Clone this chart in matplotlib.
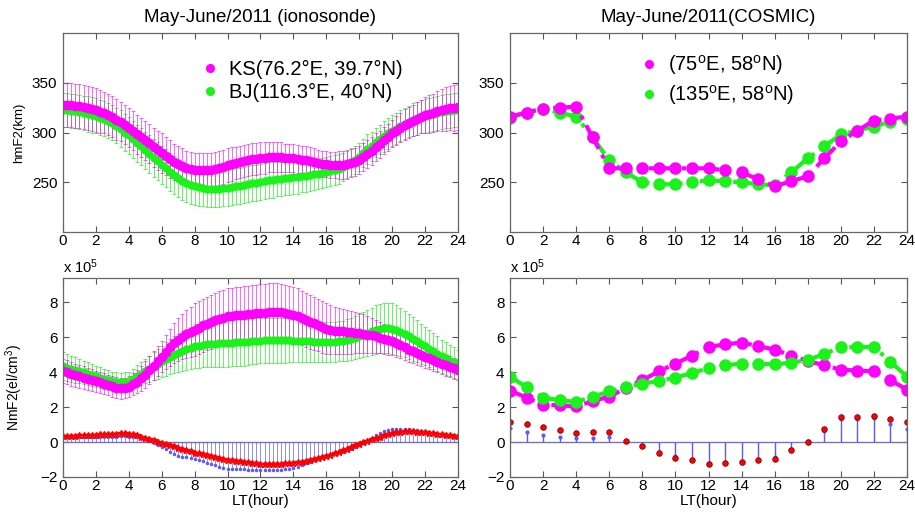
import numpy as np
import matplotlib
matplotlib.use("Agg")
import matplotlib.pyplot as plt
from matplotlib.lines import Line2D

plt.rcParams['font.family'] = ['Liberation Sans', 'DejaVu Sans']
plt.rcParams['mathtext.fontset'] = 'custom'
plt.rcParams['mathtext.rm'] = 'Liberation Sans'
plt.rcParams['mathtext.it'] = 'Liberation Sans:italic'

# ---------------- data ----------------
# ionosonde, 15-min local time grid (hours)
lt_fine = np.arange(0, 24.01, 0.25)

ks_hmf2 = [328, 328, 328, 327, 327, 326, 325, 324, 323, 321, 320, 318, 316, 313, 311, 308,
           305, 302, 298, 295, 292, 289, 285, 282, 279, 276, 273, 270, 268, 266, 264, 263,
           262, 262, 262, 262, 262, 263, 264, 265, 267, 268, 269, 270, 271, 272, 273, 273,
           274, 274, 275, 275, 275, 275, 274, 274, 274, 273, 272, 272, 271, 270, 269, 268,
           268, 267, 267, 267, 267, 268, 269, 270, 272, 275, 278, 281, 285, 288, 292, 295,
           299, 302, 305, 308, 310, 312, 314, 316, 318, 319, 320, 322, 323, 324, 325, 325, 326]
bj_hmf2 = [323, 323, 322, 322, 321, 320, 319, 318, 317, 315, 314, 312, 310, 307, 304, 300,
           297, 293, 289, 286, 282, 278, 274, 271, 267, 264, 260, 257, 254, 251, 249, 247,
           246, 245, 244, 243, 243, 243, 243, 244, 244, 245, 246, 246, 247, 248, 249, 249,
           250, 251, 252, 252, 253, 253, 254, 254, 255, 255, 256, 256, 257, 258, 258, 259,
           260, 261, 262, 263, 265, 267, 270, 272, 275, 279, 283, 286, 290, 293, 296, 299,
           302, 304, 307, 309, 311, 313, 314, 316, 317, 318, 319, 320, 321, 322, 322, 323, 323]
ks_hmf2_std = [22, 22, 22, 22, 22, 22, 22, 22, 22, 22, 21, 21, 21, 21, 20, 20,
               20, 20, 20, 20, 20, 20, 20, 20, 20, 19, 19, 18, 18, 18, 17, 17,
               17, 17, 17, 17, 17, 17, 17, 17, 17, 17, 16, 16, 16, 16, 16, 16,
               16, 16, 15, 15, 15, 15, 14, 14, 14, 14, 14, 14, 14, 14, 13, 13,
               13, 13, 13, 14, 14, 14, 14, 14, 14, 14, 14, 14, 14, 14, 14, 14,
               14, 15, 15, 16, 16, 16, 17, 17, 18, 19, 19, 20, 21, 22, 22, 23, 23]
bj_hmf2_std = [17, 17, 17, 17, 17, 17, 18, 18, 18, 18, 18, 18, 18, 18, 19, 19,
               19, 19, 19, 19, 19, 19, 19, 19, 19, 19, 19, 19, 19, 19, 19, 19,
               19, 19, 18, 18, 18, 18, 18, 18, 18, 18, 18, 18, 18, 18, 18, 18,
               18, 18, 18, 18, 17, 17, 17, 17, 17, 17, 16, 16, 16, 16, 15, 15,
               15, 15, 15, 15, 14, 14, 14, 14, 14, 14, 15, 15, 15, 15, 16, 16,
               16, 16, 16, 16, 16, 17, 17, 17, 17, 17, 17, 17, 17, 17, 17, 17, 17]

# NmF2 in units of 1e5 el/cm^3
ks_nmf2 = [4.06, 3.99, 3.91, 3.84, 3.77, 3.70, 3.63, 3.56, 3.49, 3.42, 3.34, 3.27, 3.20, 3.12, 3.08, 3.10,
           3.18, 3.30, 3.47, 3.66, 3.87, 4.12, 4.38, 4.64, 4.90, 5.16, 5.42, 5.66, 5.87, 6.04, 6.18, 6.32,
           6.44, 6.56, 6.68, 6.79, 6.90, 6.98, 7.06, 7.13, 7.20, 7.23, 7.26, 7.28, 7.30, 7.33, 7.36, 7.38,
           7.40, 7.42, 7.44, 7.45, 7.45, 7.43, 7.39, 7.35, 7.30, 7.21, 7.11, 7.00, 6.90, 6.80, 6.69, 6.59,
           6.50, 6.44, 6.39, 6.36, 6.34, 6.31, 6.29, 6.27, 6.25, 6.21, 6.16, 6.11, 6.06, 5.99, 5.92, 5.85,
           5.77, 5.66, 5.54, 5.42, 5.30, 5.20, 5.10, 5.00, 4.90, 4.80, 4.70, 4.60, 4.50, 4.41, 4.32, 4.23, 4.15]
bj_nmf2 = [4.34, 4.27, 4.20, 4.13, 4.06, 3.99, 3.91, 3.84, 3.77, 3.70, 3.63, 3.56, 3.49, 3.44, 3.42, 3.44,
           3.49, 3.62, 3.77, 3.91, 4.06, 4.20, 4.35, 4.49, 4.63, 4.76, 4.88, 5.00, 5.10, 5.21, 5.31, 5.40,
           5.49, 5.53, 5.57, 5.60, 5.62, 5.64, 5.65, 5.67, 5.68, 5.69, 5.71, 5.72, 5.73, 5.75, 5.77, 5.79,
           5.81, 5.82, 5.82, 5.83, 5.83, 5.83, 5.82, 5.82, 5.81, 5.80, 5.79, 5.78, 5.77, 5.76, 5.75, 5.74,
           5.73, 5.73, 5.75, 5.77, 5.80, 5.85, 5.92, 5.99, 6.06, 6.16, 6.26, 6.35, 6.44, 6.49, 6.53, 6.52,
           6.50, 6.42, 6.31, 6.19, 6.06, 5.92, 5.78, 5.64, 5.49, 5.35, 5.20, 5.06, 4.91, 4.79, 4.67, 4.56, 4.44]
ks_nmf2_std = [0.70, 0.69, 0.68, 0.66, 0.65, 0.64, 0.62, 0.61, 0.60, 0.60, 0.60, 0.60, 0.60, 0.60, 0.60, 0.60,
               0.60, 0.63, 0.67, 0.71, 0.75, 0.79, 0.83, 0.86, 0.90, 0.98, 1.06, 1.14, 1.22, 1.30, 1.37, 1.44,
               1.50, 1.51, 1.53, 1.54, 1.55, 1.56, 1.58, 1.59, 1.60, 1.60, 1.61, 1.61, 1.62, 1.63, 1.64, 1.64,
               1.65, 1.65, 1.65, 1.65, 1.65, 1.64, 1.62, 1.61, 1.60, 1.59, 1.57, 1.56, 1.55, 1.52, 1.50, 1.47,
               1.45, 1.41, 1.37, 1.34, 1.30, 1.26, 1.22, 1.19, 1.15, 1.10, 1.05, 1.00, 0.95, 0.91, 0.87, 0.84,
               0.80, 0.78, 0.75, 0.73, 0.70, 0.69, 0.68, 0.66, 0.65, 0.64, 0.62, 0.61, 0.60, 0.60, 0.60, 0.60, 0.60]
bj_nmf2_std = [0.80, 0.78, 0.75, 0.73, 0.70, 0.68, 0.65, 0.63, 0.60, 0.59, 0.58, 0.56, 0.55, 0.55, 0.55, 0.55,
               0.55, 0.59, 0.63, 0.66, 0.70, 0.75, 0.80, 0.85, 0.90, 0.95, 1.00, 1.05, 1.10, 1.14, 1.18, 1.21,
               1.25, 1.26, 1.28, 1.29, 1.30, 1.31, 1.33, 1.34, 1.35, 1.35, 1.35, 1.35, 1.35, 1.34, 1.32, 1.31,
               1.30, 1.30, 1.30, 1.30, 1.30, 1.29, 1.27, 1.26, 1.25, 1.24, 1.22, 1.21, 1.20, 1.19, 1.17, 1.16,
               1.15, 1.15, 1.15, 1.15, 1.15, 1.18, 1.20, 1.23, 1.25, 1.29, 1.33, 1.36, 1.40, 1.41, 1.43, 1.44,
               1.45, 1.41, 1.38, 1.34, 1.30, 1.25, 1.20, 1.15, 1.10, 1.06, 1.03, 0.99, 0.95, 0.93, 0.90, 0.88, 0.85]
iono_red = [0.34, 0.35, 0.36, 0.37, 0.38, 0.39, 0.40, 0.42, 0.43, 0.44, 0.46, 0.47, 0.48, 0.49, 0.50, 0.50,
            0.48, 0.44, 0.38, 0.32, 0.25, 0.18, 0.10, 0.03, -0.04, -0.11, -0.18, -0.25, -0.32, -0.39, -0.46, -0.53,
            -0.60, -0.65, -0.70, -0.75, -0.80, -0.85, -0.90, -0.95, -1.00, -1.03, -1.06, -1.09, -1.12, -1.15, -1.18, -1.21,
            -1.24, -1.24, -1.24, -1.24, -1.24, -1.23, -1.21, -1.20, -1.18, -1.15, -1.12, -1.08, -1.05, -0.99, -0.93, -0.86,
            -0.80, -0.72, -0.64, -0.56, -0.48, -0.38, -0.29, -0.19, -0.10, -0.01, 0.08, 0.16, 0.25, 0.32, 0.39, 0.46,
            0.53, 0.56, 0.59, 0.61, 0.63, 0.61, 0.59, 0.57, 0.55, 0.52, 0.50, 0.47, 0.45, 0.42, 0.40, 0.37, 0.35]

# COSMIC, hourly
lt_hour = np.arange(0, 25, 1)
c75_hmf2 = [316, 320, 324, 325, 326, 295, 264, 264, 264, 264, 264, 264, 264, 262, 260, 253,
            246, 251, 256, 274, 291, 302, 312, 314, 316]
c135_hmf2 = [315, 320, 324, 320, 316, 295, 272, 260, 250, 248, 248, 250, 252, 251, 250, 248,
             247, 260, 274, 286, 298, 302, 306, 311, 314]
c75_nmf2 = [2.95, 2.55, 2.15, 2.10, 2.05, 2.35, 2.60, 3.10, 3.55, 4.05, 4.50, 4.95, 5.45, 5.60, 5.70,
            5.50, 5.30, 4.95, 4.65, 4.40, 4.15, 4.10, 4.05, 3.55, 3.00]
c135_nmf2 = [3.75, 3.15, 2.55, 2.40, 2.30, 2.60, 2.90, 3.15, 3.35, 3.50, 3.70, 3.95, 4.25, 4.40, 4.50,
             4.50, 4.45, 4.55, 4.70, 5.05, 5.45, 5.45, 5.45, 4.60, 3.75]
cosmic_red = [1.15, 1.05, 0.85, 0.70, 0.50, 0.55, 0.55, 0.08, -0.25, -0.60, -0.90, -1.05, -1.25, -1.20,
              -1.15, -1.05, -0.95, -0.45, 0.00, 0.75, 1.45, 1.45, 1.50, 1.35, 1.15]

xticks = list(range(0, 25, 2))

# ---------------- figure ----------------
fig = plt.figure(figsize=(9.15, 5.2), dpi=100)
W, H = 915, 520
def ax_at(x0, y0, x1, y1):
    return fig.add_axes([x0 / W, 1 - y1 / H, (x1 - x0) / W, (y1 - y0) / H])

ax1 = ax_at(63, 33, 458, 232)
ax2 = ax_at(510, 33, 907, 232)
ax3 = ax_at(63, 278, 458, 477)
ax4 = ax_at(510, 278, 907, 477)

MAG = (1.0, 0.0, 1.0)
GRN = (0.1, 0.95, 0.1)
BLUE = (0.35, 0.35, 1.0)

def style(ax, ylim, yticks):
    ax.set_xlim(0, 24)
    ax.set_ylim(*ylim)
    ax.set_xticks(xticks)
    ax.set_yticks(yticks)
    ax.tick_params(direction='in', top=True, right=True, length=4, width=0.8,
                   color='#555555', labelsize=11, pad=1.5)
    ax.tick_params(axis='y', pad=4)
    for s in ax.spines.values():
        s.set_color('#666666')
        s.set_linewidth(0.9)

# --- top-left: ionosonde hmF2 ---
lt = lt_fine
ax1.errorbar(lt, bj_hmf2, yerr=bj_hmf2_std, fmt='none', ecolor=GRN, elinewidth=0.6,
             capsize=1.6, capthick=0.6, alpha=0.8)
ax1.errorbar(lt, ks_hmf2, yerr=ks_hmf2_std, fmt='none', ecolor=MAG, elinewidth=0.6,
             capsize=1.6, capthick=0.6, alpha=0.7)
ax1.plot(lt, bj_hmf2, 'o', color=GRN, ms=6, mec=GRN, mew=0)
ax1.plot(lt, ks_hmf2, 'o', color=MAG, ms=7, mec=MAG, mew=0)
style(ax1, (200, 400), [250, 300, 350])
ax1.set_ylabel('hmF2(km)', fontsize=9.5)
ax1.yaxis.set_label_coords(-0.095, 0.5)
ax1.set_title('May-June/2011 (ionosonde)', fontsize=13.5, pad=8)
h1 = [Line2D([], [], ls='none', marker='o', ms=5.5, color=MAG),
      Line2D([], [], ls='none', marker='o', ms=5.5, color=GRN)]
ax1.legend(h1, ['KS(76.2°E, 39.7°N)', 'BJ(116.3°E, 40°N)'], loc='upper left',
           bbox_to_anchor=(0.30, 0.955), frameon=False, fontsize=14.5, handlelength=1.0,
           handletextpad=0.45, labelspacing=0.2)

# --- top-right: COSMIC hmF2 ---
ax2.plot(lt_hour, c135_hmf2, '-.', color=GRN, lw=3, marker='o', ms=9, mew=0)
ax2.plot(lt_hour, c75_hmf2, '-.', color=MAG, lw=3, marker='o', ms=9, mew=0)
style(ax2, (200, 400), [250, 300, 350])
ax2.set_title('May-June/2011(COSMIC)', fontsize=13.5, pad=8)
ax2.legend(h1, ['(75$^{\\rm o}$E, 58$^{\\rm o}$N)', '(135$^{\\rm o}$E, 58$^{\\rm o}$N)'],
           loc='upper left', bbox_to_anchor=(0.28, 0.99), frameon=False, fontsize=14.5,
           handlelength=1.0, handletextpad=0.45, labelspacing=0.3)

# --- bottom-left: ionosonde NmF2 ---
ax3.errorbar(lt, bj_nmf2, yerr=bj_nmf2_std, fmt='none', ecolor=GRN, elinewidth=0.6,
             capsize=1.6, capthick=0.6, alpha=0.8)
ax3.errorbar(lt, ks_nmf2, yerr=ks_nmf2_std, fmt='none', ecolor=MAG, elinewidth=0.6,
             capsize=1.6, capthick=0.6, alpha=0.7)
ax3.plot(lt, bj_nmf2, 'o', color=GRN, ms=6, mew=0)
ax3.plot(lt, ks_nmf2, 'o', color=MAG, ms=7, mew=0)
diff_iono = np.array(bj_nmf2) - np.array(ks_nmf2)
ax3.axhline(0, color=(0.45, 0.45, 0.75), lw=1.0)
ax3.vlines(lt, 0, diff_iono, color=BLUE, lw=0.6, alpha=0.8)
ax3.plot(lt, diff_iono, '.', color=BLUE, ms=3)
ax3.plot(lt, iono_red, '-', color='red', lw=1.3, marker='*', ms=4.5)
style(ax3, (-2, 9.4), [-2, 0, 2, 4, 6, 8])
ax3.set_ylabel('NmF2(el/cm$^3$)', fontsize=10)
ax3.yaxis.set_label_coords(-0.095, 0.45)
ax3.set_xlabel('LT(hour)', fontsize=11)
ax3.xaxis.set_label_coords(0.5, -0.085)
ax3.text(0.0, 1.012, 'x 10$^5$', transform=ax3.transAxes, fontsize=10.5, ha='left', va='bottom')

# --- bottom-right: COSMIC NmF2 ---
ax4.plot(lt_hour, c75_nmf2, '-.', color=MAG, lw=3, marker='o', ms=9, mew=0)
ax4.plot(lt_hour, c135_nmf2, '-.', color=GRN, lw=3, marker='o', ms=9, mew=0)
diff_cos = np.array(c135_nmf2) - np.array(c75_nmf2)
ax4.axhline(0, color=(0.45, 0.45, 0.75), lw=1.0)
ax4.vlines(lt_hour, 0, diff_cos, color=BLUE, lw=1.0)
ax4.plot(lt_hour, diff_cos, '.', color=BLUE, ms=4)
ax4.plot(lt_hour, cosmic_red, 'o', ls='none', mfc='red', mec=(0.55, 0, 0), ms=4, mew=0.6)
style(ax4, (-2, 9.4), [-2, 0, 2, 4, 6, 8])
ax4.set_xlabel('LT(hour)', fontsize=11)
ax4.xaxis.set_label_coords(0.5, -0.085)
ax4.text(0.0, 1.012, 'x 10$^5$', transform=ax4.transAxes, fontsize=10.5, ha='left', va='bottom')

fig.savefig('out.png', dpi=100)
